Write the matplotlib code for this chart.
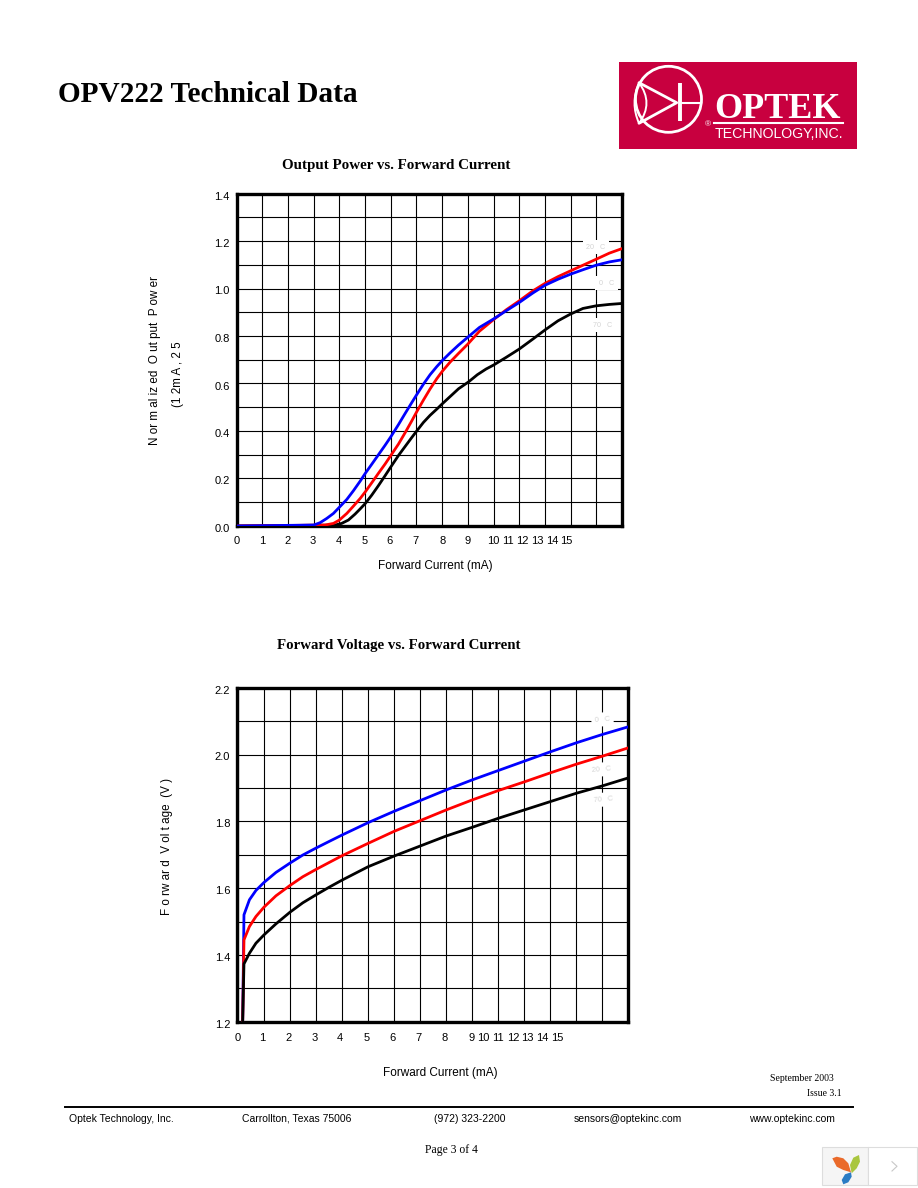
import matplotlib
matplotlib.use('Agg')
from matplotlib import pyplot as plt
from matplotlib.patches import Rectangle, Circle, PathPatch, Polygon
from matplotlib.path import Path
from matplotlib.transforms import ScaledTranslation

W, H = 918, 1188
SANS = ['Liberation Sans', 'DejaVu Sans']
SERIF = ['Liberation Serif', 'DejaVu Serif']

# Output Power vs. Forward Current (x in grid divisions)
power_ticks = [0, 0.98, 2.0, 2.97, 3.99, 5.0, 5.97, 6.97, 8.0, 8.97, 9.98, 10.55, 11.13, 11.7, 12.3, 12.85]
power_x_blue = [0, 3.0, 3.25, 3.51, 3.77, 4.0, 4.29, 4.55, 4.81, 5.01, 5.26, 5.52, 5.78, 6.01, 6.3, 6.56, 6.82, 7.01,
                7.27, 7.53, 7.79, 8.01, 8.31, 8.64, 9.0, 9.45, 9.99, 10.49, 11.0, 11.53, 12.01, 12.51, 12.99, 13.48,
                13.99, 14.51, 15.0]
power_y_blue = [0, 0.004, 0.014, 0.032, 0.053, 0.079, 0.112, 0.149, 0.189, 0.222, 0.26, 0.3, 0.34, 0.377, 0.427,
                0.474, 0.52, 0.553, 0.597, 0.637, 0.671, 0.697, 0.729, 0.762, 0.795, 0.836, 0.871, 0.906, 0.941,
                0.981, 1.014, 1.039, 1.06, 1.079, 1.098, 1.112, 1.121]
power_x_red = [0, 3.44, 3.77, 4.0, 4.29, 4.55, 4.81, 5.01, 5.26, 5.52, 5.78, 6.01, 6.3, 6.56, 6.82, 7.01, 7.27, 7.53,
               7.79, 8.01, 8.31, 8.64, 9.0, 9.45, 9.99, 10.49, 11.0, 11.53, 12.01, 12.51, 12.99, 13.48, 13.99, 14.51,
               15.0]
power_y_red = [0, 0.004, 0.011, 0.025, 0.053, 0.084, 0.116, 0.144, 0.182, 0.222, 0.261, 0.298, 0.345, 0.393, 0.443,
               0.481, 0.53, 0.577, 0.62, 0.652, 0.69, 0.727, 0.766, 0.82, 0.868, 0.91, 0.948, 0.99, 1.022, 1.05,
               1.074, 1.098, 1.123, 1.149, 1.168]
power_x_black = [0, 3.83, 4.09, 4.35, 4.61, 4.81, 5.01, 5.26, 5.52, 5.78, 6.01, 6.3, 6.56, 6.82, 7.01, 7.27, 7.53,
                 7.79, 8.01, 8.31, 8.64, 9.03, 9.37, 9.71, 9.99, 10.49, 11.0, 11.53, 12.01, 12.51, 12.99, 13.48,
                 13.99, 14.51, 15.0]
power_y_black = [0, 0.004, 0.011, 0.025, 0.05, 0.072, 0.095, 0.13, 0.17, 0.212, 0.25, 0.297, 0.335, 0.373, 0.4,
                 0.436, 0.466, 0.492, 0.515, 0.545, 0.578, 0.607, 0.637, 0.661, 0.677, 0.71, 0.745, 0.787, 0.826,
                 0.864, 0.892, 0.916, 0.927, 0.933, 0.937]

# Forward Voltage vs. Forward Current
volt_ticks = [-0.03, 0.95, 1.96, 2.95, 3.93, 4.94, 5.94, 6.92, 7.93, 8.97, 9.44, 9.97, 10.57, 11.12, 11.69, 12.26]
volt_x = [0.18, 0.23, 0.44, 0.69, 1, 1.46, 2, 2.49, 3, 3.51, 4, 5, 6, 7, 8, 9, 10, 11, 12, 13, 14, 15]
volt_y_blue = [1.2, 1.52, 1.565, 1.593, 1.617, 1.647, 1.675, 1.699, 1.72, 1.74, 1.759, 1.796, 1.83, 1.862, 1.894,
               1.924, 1.952, 1.98, 2.008, 2.035, 2.06, 2.083]
volt_y_red = [1.2, 1.445, 1.485, 1.515, 1.543, 1.577, 1.608, 1.634, 1.656, 1.677, 1.697, 1.734, 1.77, 1.802, 1.834,
              1.864, 1.892, 1.918, 1.945, 1.971, 1.995, 2.02]
volt_y_black = [1.2, 1.373, 1.405, 1.435, 1.46, 1.493, 1.528, 1.556, 1.58, 1.603, 1.624, 1.664, 1.696, 1.726, 1.756,
                1.782, 1.809, 1.834, 1.859, 1.884, 1.906, 1.93]

x_labels = [str(i) for i in range(16)]
power_y_ticks = [0.0, 0.2, 0.4, 0.6, 0.8, 1.0, 1.2, 1.4]
volt_y_ticks = [1.2, 1.4, 1.6, 1.8, 2.0, 2.2]


def px_axes(fig, left, top, right, bottom):
    return fig.add_axes([left / W, 1 - bottom / H, (right - left) / W, (bottom - top) / H])


def chart(fig, box, ylim, y_ticks, y_grid, x_ticks, x_pad, series):
    ax = px_axes(fig, *box)
    ax.set_xlim(0, 15)
    ax.set_ylim(*ylim)
    ax.xaxis.remove_overlapping_locs = False
    ax.yaxis.remove_overlapping_locs = False
    ax.set_xticks(x_ticks)
    ax.set_xticklabels(x_labels, fontsize=8, family=SANS)
    ax.set_yticks(y_ticks)
    ax.set_yticklabels(['%.1f' % v for v in y_ticks], fontsize=8, family=SANS)
    ax.set_xticks(range(16), minor=True)
    ax.set_yticks(y_grid, minor=True)
    ax.tick_params(which='both', length=0)
    ax.tick_params(axis='x', which='major', pad=x_pad)
    ax.tick_params(axis='y', which='major', pad=5)
    shift = ScaledTranslation(0, -2 / 100, fig.dpi_scale_trans)
    for label in ax.get_yticklabels():
        label.set_transform(label.get_transform() + shift)
    ax.grid(which='minor', color='black', lw=0.8)
    ax.set_axisbelow(True)
    for sp in ax.spines.values():
        sp.set_linewidth(2.4)
    for x, y, c in series:
        ax.plot(x, y, color=c, lw=2.0, solid_joinstyle='round', zorder=4)
    return ax


def temp_label(ax, x, y, s, rot=0):
    ax.text(x, y, s, fontsize=5.2, color='#d4d4d4', family=SANS, ha='center', va='center', rotation=rot, zorder=3,
            bbox=dict(facecolor='white', edgecolor='none', pad=2.5))


def draw_logo(bg):
    bg.add_patch(Rectangle((619, 62), 238, 87, color='#c8003f', lw=0))
    bg.add_patch(Circle((668.5, 99.3), 33, fill=False, ec='white', lw=2.0))
    bg.plot([639, 676.7, 639], [82.7, 102.7, 123.3], color='white', lw=2.0, solid_capstyle='round')
    bg.plot([680, 680], [83.3, 121], color='white', lw=2.8, solid_capstyle='butt')
    bg.plot([680, 701], [102.7, 102.7], color='white', lw=1.5)
    lens = Path([(639, 82.7), (654, 103), (639, 123.3), (630, 103), (639, 82.7)],
                [Path.MOVETO, Path.CURVE3, Path.CURVE3, Path.CURVE3, Path.CURVE3])
    bg.add_patch(PathPatch(lens, fill=False, ec='white', lw=1.4))
    bg.plot([714, 843], [123, 123], color='white', lw=1.5)
    bg.text(778, 118.5, 'OPTEK', color='white', fontsize=26, fontweight='bold', ha='center', va='baseline', family=SERIF)
    bg.text(779, 137.5, 'TECHNOLOGY,INC.', color='white', fontsize=10.2, ha='center', va='baseline', family=SANS)
    bg.text(707.5, 125, '®', color='white', fontsize=6, ha='center', va='center', family=SANS)


def draw_widget(bg):
    bg.add_patch(Rectangle((822, 1146.7), 46.3, 38.3, fc='#f5f5f5', ec='#dddddd', lw=0.8))
    bg.add_patch(Rectangle((868.3, 1146.7), 49, 38.3, fc='white', ec='#dddddd', lw=0.8))
    bg.add_patch(Polygon([(832.3, 1158.3), (836.7, 1156.7), (843.3, 1158.3), (848.3, 1163.3), (851, 1172.3),
                          (843.3, 1170), (836.7, 1166.7)], color='#ea6a2a', lw=0))
    bg.add_patch(Polygon([(859, 1155), (860, 1161.7), (856.7, 1168.3), (851.7, 1173.3), (850, 1165), (853.3, 1157.7)],
                         color='#a9c63e', lw=0))
    bg.add_patch(Polygon([(851, 1172.3), (851.7, 1176.7), (848.3, 1182.3), (843.3, 1184.3), (841.7, 1180),
                          (845, 1174.3)], color='#2b7cc4', lw=0))
    bg.plot([892, 897, 892], [1161.7, 1166.3, 1171], color='#c8c8c8', lw=0.8)


fig = plt.figure(figsize=(W / 100, H / 100), dpi=100)
bg = fig.add_axes([0, 0, 1, 1])
bg.set_xlim(0, W)
bg.set_ylim(H, 0)
bg.axis('off')

bg.text(58, 102, 'OPV222 Technical Data', fontsize=21.1, fontweight='bold', family=SERIF, va='baseline')
draw_logo(bg)

bg.text(396, 165, 'Output Power vs. Forward Current', fontsize=10.8, fontweight='bold', family=SERIF, ha='center', va='center')
bg.text(399, 646, 'Forward Voltage vs. Forward Current', fontsize=10.7, fontweight='bold', family=SERIF, ha='center', va='center')

ax1 = chart(fig, (236.6, 193.5, 622, 526), (0, 1.4), power_y_ticks, [i / 10 for i in range(15)], power_ticks, 7,
            [(power_x_black, power_y_black, 'black'), (power_x_red, power_y_red, 'red'), (power_x_blue, power_y_blue, 'blue')])
temp_label(ax1, 13.98, 1.174, '20   C')
temp_label(ax1, 14.4, 1.022, '0   C')
temp_label(ax1, 14.26, 0.846, '70   C')

ax2 = chart(fig, (237.2, 687.7, 628.4, 1021.7), (1.2, 2.2), volt_y_ticks, [1.2 + i / 10 for i in range(11)], volt_ticks, 8,
            [(volt_x, volt_y_blue, 'blue'), (volt_x, volt_y_red, 'red'), (volt_x, volt_y_black, 'black')])
temp_label(ax2, 14.0, 2.105, '0   C', 5)
temp_label(ax2, 13.95, 1.955, '20   C', 5)
temp_label(ax2, 14.05, 1.865, '70   C', 5)

label = dict(fontsize=8.5, family=SANS, va='center')
bg.text(435, 565.7, 'Forward Current (mA)', ha='center', **label)
bg.text(440.6, 1072.7, 'Forward Current (mA)', ha='center', **label)
label['fontsize'] = 8.4
bg.text(155, 360.5, 'N or m al iz ed  O ut put  P ow er', rotation=90, ha='center', **label)
bg.text(177.7, 374, '(1 2m A , 2 5', rotation=90, ha='center', **label)
bg.text(166.7, 846.5, 'F o rw ar d  V ol t age  (V )', rotation=90, ha='center', **label)

small = dict(family=SERIF, fontsize=7, va='center')
bg.text(834, 1078.6, 'September 2003', ha='right', **small)
bg.text(842, 1093, 'Issue 3.1', ha='right', **small)
bg.plot([65, 853], [1107, 1107], color='black', lw=1.4)
foot = dict(family=SANS, fontsize=7.5, va='center')
bg.text(69, 1118.6, 'Optek Technology, Inc.', **foot)
bg.text(242.5, 1118.6, 'Carrollton, Texas 75006', **foot)
bg.text(433.7, 1118.6, '(972) 323-2200', **foot)
bg.text(574, 1118.6, 'sensors@optekinc.com', **foot)
bg.text(749, 1118.6, 'www.optekinc.com', **foot)
bg.text(451.5, 1149.5, 'Page 3 of 4', family=SERIF, fontsize=8.4, ha='center', va='center')
draw_widget(bg)

fig.savefig('out.png', dpi=100)
